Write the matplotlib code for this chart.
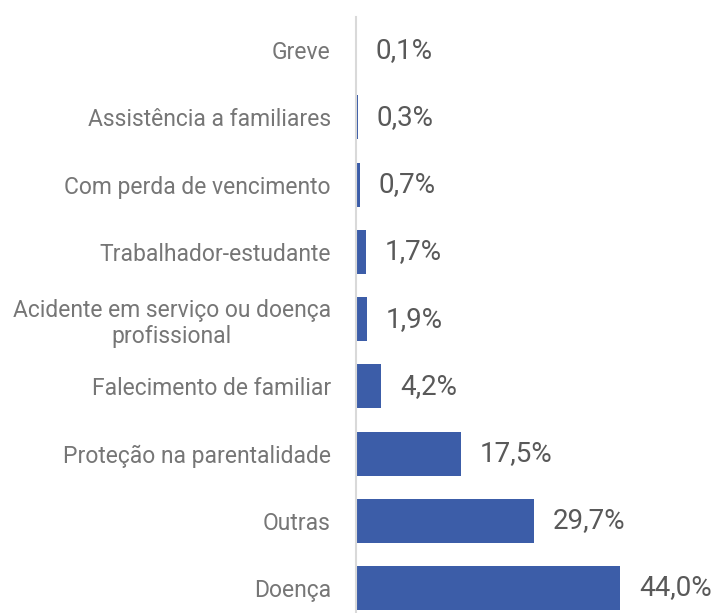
import matplotlib.pyplot as plt

# Dados
categorias = ['Greve', 'Assistência a familiares', 'Com perda de vencimento',
              'Trabalhador-estudante', 'Acidente em serviço ou doença\nprofissional',
              'Falecimento de familiar', 'Proteção na parentalidade', 'Outras', 'Doença']
valores = [0.1, 0.3, 0.7, 1.7, 1.9, 4.2, 17.5, 29.7, 44.0]

plt.rcParams['font.family'] = ['Roboto', 'DejaVu Sans']

fig = plt.figure(figsize=(7.16, 6.13), dpi=100)
ax = fig.add_axes([0.497, -0.014, 0.42, 0.987])

pos = list(range(len(categorias)))
ax.barh(pos, valores, height=0.655, color='#3c5da8')

for y, v in zip(pos, valores):
    rotulo = f'{v:.1f}%'.replace('.', ',')
    ax.annotate(rotulo, (v, y), xytext=(13.5, 0), textcoords='offset points',
                va='center', ha='left', fontsize=20, color='#595959')

ax.set_yticks(pos)
ax.set_yticklabels(categorias, fontsize=16.5, color='#767676', multialignment='center')
ax.set_ylim(8.5, -0.5)
ax.set_xlim(0, 50)

ax.tick_params(axis='y', length=0, pad=18)
ax.set_xticks([])
for lado in ['top', 'right', 'bottom']:
    ax.spines[lado].set_visible(False)
ax.spines['left'].set_color('#d9d9d9')
ax.spines['left'].set_linewidth(1.5)

fig.savefig('out.png', dpi=100)
